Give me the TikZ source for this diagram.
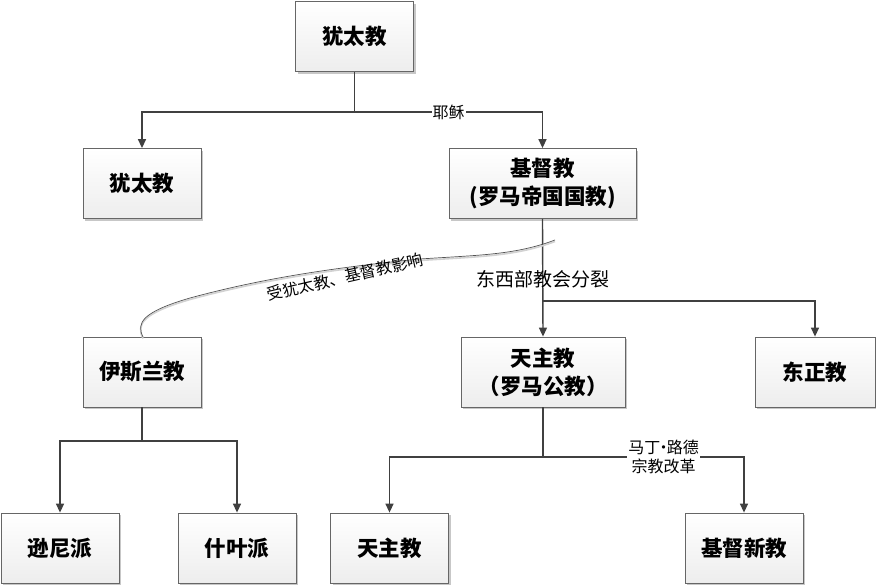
\documentclass[tikz,border=0pt]{standalone}
\usepackage{fontspec}
\newfontfamily\cjk{Noto Sans CJK SC}
\usetikzlibrary{arrows.meta,shadows}
\definecolor{ln}{HTML}{404040}
\tikzset{
  box/.style={draw=ln!80, line width=0.8pt, top color=white, bottom color=gray!14,
    drop shadow={shadow xshift=2pt, shadow yshift=-2pt, fill=gray!55, opacity=0.8},
    minimum width=#1, minimum height=70pt, inner sep=0pt, align=center,
    font=\cjk\bfseries\fontsize{21.5}{28}\selectfont},
  box/.default=118pt,
  conn/.style={draw=ln, line width=1.4pt, -{Triangle[length=9pt,width=8pt]}},
  plain/.style={draw=ln, line width=1.4pt},
  lbl/.style={font=\cjk\fontsize{16}{19}\selectfont, inner sep=1pt, align=center},
}
\begin{document}
\begin{tikzpicture}[x=1pt,y=-1pt]
\useasboundingbox (0,0) rectangle (876,587);
% boxes
\node[box] (jud) at (354.5,36.5) {犹太教};
\node[box] (jud2) at (142,183.5) {犹太教};
\node[box=187pt] (chr) at (542.5,183.5) {基督教\\(罗马帝国国教)};
\node[box] (isl) at (142,372) {伊斯兰教};
\node[box=164pt] (cat) at (543,372) {天主教\\（罗马公教）};
\node[box=120pt] (ort) at (815,372) {东正教};
\node[box] (sun) at (60,548) {逊尼派};
\node[box] (shi) at (237,548) {什叶派};
\node[box] (cat2) at (389.5,548) {天主教};
\node[box] (pro) at (744,548) {基督新教};
% junction coordinates
\coordinate (j1) at (354.5,112);
\coordinate (j2) at (543,301);
\coordinate (j3) at (142,441);
\coordinate (j4) at (543,457);
% connectors
\draw[plain] (jud.south) -- (j1);
\draw[conn] (j1) -| (jud2.north);
\draw[conn] (j1) -| node[pos=0.25, fill=white, lbl] {耶稣} (chr.north);
\draw[conn] (chr.south) -- (cat.north);
\draw[conn] (j2) -| (ort.north);
\node[lbl, font=\cjk\fontsize{19}{22}\selectfont] (split) at (543,279) {东西部教会分裂};
\draw[plain] (isl.south) -- (j3);
\draw[conn] (j3) -| (sun.north);
\draw[conn] (j3) -| (shi.north);
\draw[plain] (cat.south) -- (j4);
\draw[conn] (j4) -| (cat2.north);
\draw[conn] (j4) -| node[pos=0.3, fill=white, lbl] {马丁\kern-0.3em·\kern-0.3em路德\\宗教改革} (pro.north);
% influence curve
\coordinate (c0) at (143,337);
\coordinate (c1) at (555,240);
\draw[gray!35, line width=1.6pt, transform canvas={yshift=-1.5pt}] (c0) .. controls (136,323) and (142,312) .. (190,298) .. controls (260,279) and (330,268) .. (420,259) .. controls (480,255) and (515,255) .. (c1);
\draw[ln!90, line width=0.7pt] (c0) .. controls (136,323) and (142,312) .. (190,298) .. controls (260,279) and (330,268) .. (420,259) .. controls (480,255) and (515,255) .. (c1);
\node[lbl, rotate=13] (infl) at (345,277) {受犹太教、基督教影响};
\end{tikzpicture}
\end{document}
